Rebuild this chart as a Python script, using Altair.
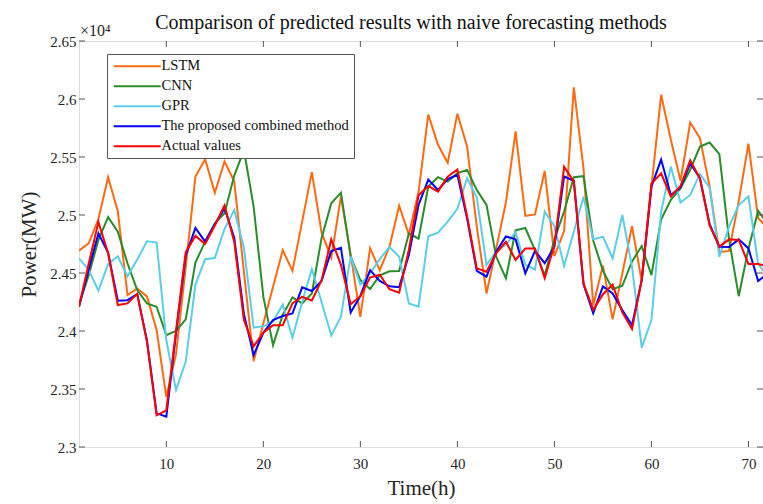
import altair as alt
import pandas as pd

hours = list(range(1, 73))

lstm = [24693, 24756, 24965, 25325, 25032, 24310, 24366, 24298, 24008, 23432,
        23800, 24550, 25332, 25480, 25191, 25461, 25290, 24510, 23740, 24065,
        24382, 24696, 24518, 24943, 25370, 24850, 24630, 25160, 24660, 24122,
        24712, 24525, 24727, 25080, 24830, 25200, 25866, 25605, 25450, 25873,
        25591, 24900, 24324, 24710, 25108, 25720, 24992, 25005, 25380, 24645,
        24862, 26100, 25400, 24220, 24564, 24100, 24497, 24903, 24430, 25240,
        26036, 25648, 25295, 25797, 25662, 25245, 24680, 24690, 25120, 25616,
        24972, 24885]

cnn = [24230, 24480, 24785, 24981, 24857, 24583, 24353, 24238, 24209, 23964,
       24000, 24100, 24590, 24770, 24929, 25015, 25340, 25560, 25073, 24296,
       23878, 24140, 24290, 24238, 24324, 24800, 25101, 25193, 24641, 24439,
       24362, 24480, 24515, 24517, 24842, 24796, 25245, 25326, 25288, 25360,
       25389, 25216, 25087, 24641, 24454, 24868, 24888, 24698, 24480, 24790,
       25030, 25326, 25335, 24780, 24520, 24360, 24390, 24600, 24732, 24482,
       24960, 25130, 25230, 25390, 25590, 25625, 25525, 24790, 24300, 24710,
       25037, 24920]

gpr = [24627, 24526, 24348, 24576, 24644, 24471, 24616, 24773, 24762, 23920,
       23492, 23734, 24400, 24619, 24629, 24880, 25042, 24715, 24030, 24040,
       24082, 24228, 23943, 24250, 24534, 24250, 23960, 24125, 24641, 24400,
       24497, 24620, 24724, 24641, 24237, 24209, 24816, 24848, 24943, 25054,
       25317, 25150, 24570, 24684, 24745, 24852, 24570, 24530, 25029, 24906,
       24560, 24856, 25158, 24790, 24813, 24626, 25000, 24554, 23856, 24095,
       25030, 25417, 25107, 25173, 25354, 25235, 24640, 24900, 25086, 25160,
       24578, 24468]

combined = [24209, 24530, 24843, 24675, 24261, 24266, 24318, 23921, 23290, 23262,
            23980, 24650, 24888, 24771, 24920, 25058, 24805, 24145, 23792, 23985,
            24094, 24130, 24151, 24376, 24345, 24432, 24690, 24717, 24160, 24302,
            24525, 24432, 24385, 24378, 24655, 25087, 25305, 25216, 25310, 25346,
            24970, 24518, 24468, 24684, 24816, 24790, 24497, 24690, 24585, 24727,
            25332, 25295, 24403, 24154, 24385, 24324, 24180, 24050, 24439, 25245,
            25478, 25173, 25238, 25444, 25317, 24921, 24727, 24724, 24790, 24712,
            24430, 24496]

actual = [24210, 24580, 24940, 24670, 24224, 24238, 24320, 23910, 23273, 23316,
          24000, 24680, 24820, 24750, 24910, 25083, 24770, 24094, 23868, 23985,
          24050, 24050, 24238, 24295, 24263, 24436, 24790, 24570, 24230, 24300,
          24460, 24485, 24360, 24330, 24700, 25170, 25250, 25202, 25330, 25392,
          24990, 24540, 24511, 24670, 24770, 24612, 24712, 24712, 24455, 24740,
          25415, 25290, 24410, 24182, 24315, 24400, 24160, 24017, 24440, 25270,
          25360, 25160, 25250, 25470, 25315, 24910, 24727, 24790, 24785, 24577,
          24577, 24557]

names = ["LSTM", "CNN", "GPR", "The proposed combined method", "Actual values"]
colors = ["#FF6A13", "#2A8C2A", "#5BCFEA", "#0000FF", "#FF0000"]

x_ticks = [10, 20, 30, 40, 50, 60, 70]
y_ticks = [23000, 23500, 24000, 24500, 25000, 25500, 26000, 26500]

frames = []
for name, vals in zip(names, [lstm, cnn, gpr, combined, actual]):
    frames.append(pd.DataFrame({"Time": hours, "Power": vals, "Method": name}))
df = pd.concat(frames, ignore_index=True)

FONT = "Liberation Serif"
W, H = 684, 406

xscale = alt.Scale(domain=[1, 71.5], nice=False, zero=False)
yscale = alt.Scale(domain=[23000, 26500], nice=False, zero=False)

lines = alt.Chart(df).mark_line(strokeWidth=2, clip=True).encode(
    x=alt.X("Time:Q", scale=xscale,
            axis=alt.Axis(values=x_ticks, title="Time(h)", ticks=False, domain=False,
                          grid=False, labelPadding=9, titlePadding=6,
                          labelFont=FONT, labelFontSize=15, labelColor="#262626",
                          titleFont=FONT, titleFontSize=21, titleFontWeight="normal",
                          titleColor="#262626")),
    y=alt.Y("Power:Q", scale=yscale,
            axis=alt.Axis(values=y_ticks, title="Power(MW)", ticks=False, domain=False,
                          grid=False, labelPadding=3, titlePadding=10,
                          labelExpr="format(datum.value/10000, '.2~f')",
                          labelFont=FONT, labelFontSize=15, labelColor="#262626",
                          titleFont=FONT, titleFontSize=21, titleFontWeight="normal",
                          titleColor="#262626")),
    color=alt.Color("Method:N", scale=alt.Scale(domain=names, range=colors),
                    legend=alt.Legend(title=None, orient="none", legendX=28, legendY=13,
                                      strokeColor="#555555", fillColor="white", padding=5,
                                      symbolType="M-4,0H4", symbolSize=138,
                                      symbolStrokeWidth=2, symbolOffset=18,
                                      labelOffset=17, labelFont=FONT, labelFontSize=14.5,
                                      labelColor="#111111", rowPadding=5, labelLimit=0)),
)

xt = pd.DataFrame({"Time": x_ticks})
yt = pd.DataFrame({"Power": y_ticks})
tick_color = "#555555"
xb = alt.Chart(xt).mark_rule(color=tick_color).encode(
    x=alt.X("Time:Q", scale=xscale), y=alt.value(H), y2=alt.value(H - 6))
xtop = alt.Chart(xt).mark_rule(color=tick_color).encode(
    x=alt.X("Time:Q", scale=xscale), y=alt.value(0), y2=alt.value(6))
yl = alt.Chart(yt).mark_rule(color=tick_color).encode(
    y=alt.Y("Power:Q", scale=yscale), x=alt.value(0), x2=alt.value(6))
yr = alt.Chart(yt).mark_rule(color=tick_color).encode(
    y=alt.Y("Power:Q", scale=yscale), x=alt.value(W), x2=alt.value(W - 6))

expo = alt.Chart(pd.DataFrame({"t": ["\u00d710\u2074"]})).mark_text(
    font=FONT, fontSize=16, align="left", baseline="bottom", color="#262626"
).encode(text="t:N", x=alt.value(1), y=alt.value(-2))

chart = alt.layer(lines, xb, xtop, yl, yr, expo).properties(
    width=W, height=H,
    title=alt.TitleParams("Comparison of predicted results with naive forecasting methods",
                          font=FONT, fontSize=20, fontWeight="normal", color="#111111",
                          anchor="middle", dx=-10, offset=-10),
    autosize=alt.AutoSizeParams(type="none"),
    padding={"left": 79, "top": 41, "right": 0, "bottom": 57},
).configure_view(stroke="#666666", strokeWidth=1).configure(background="white")

chart.save("out.html", embed_options={"renderer": "svg", "actions": False})
